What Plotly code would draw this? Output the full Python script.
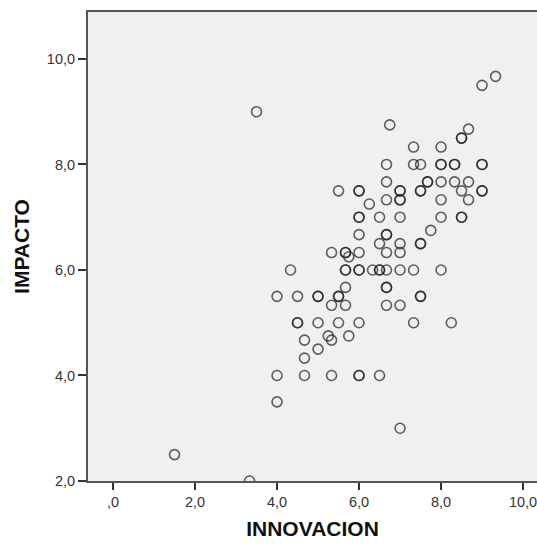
import plotly.graph_objects as go

innovacion = [9.33, 9.0, 3.5, 6.75, 8.67, 8.5, 8.5, 7.33, 8.0, 6.67, 7.33, 7.5, 8.0, 8.0,
              8.33, 8.33, 9.0, 9.0, 6.67, 7.67, 7.67, 8.0, 8.33, 8.67, 5.5, 6.0, 6.0,
              7.0, 7.0, 7.5, 7.5, 8.5, 9.0, 9.0, 6.25, 6.67, 7.0, 7.0, 8.0, 8.67,
              6.0, 6.0, 6.5, 7.0, 8.0, 8.5, 8.5, 6.0, 6.67, 6.67, 7.75, 6.5, 7.0,
              7.5, 7.5, 5.33, 5.67, 5.67, 5.75, 6.0, 6.67, 7.0, 4.33, 5.67, 5.67,
              6.0, 6.0, 6.33, 6.5, 6.5, 6.67, 7.0, 7.33, 8.0, 5.67, 6.67, 6.67,
              4.0, 4.5, 5.0, 5.0, 5.5, 5.5, 7.5, 7.5, 5.33, 5.67, 6.67, 7.0,
              4.5, 4.5, 5.0, 5.5, 6.0, 7.33, 8.25, 5.25, 5.33, 5.75, 4.67, 5.0,
              4.67, 4.0, 4.67, 5.33, 6.0, 6.0, 6.5, 4.0, 7.0, 1.5, 3.33]
impacto = [9.67, 9.5, 9.0, 8.75, 8.67, 8.5, 8.5, 8.33, 8.33, 8.0, 8.0, 8.0, 8.0, 8.0,
           8.0, 8.0, 8.0, 8.0, 7.67, 7.67, 7.67, 7.67, 7.67, 7.67, 7.5, 7.5, 7.5,
           7.5, 7.5, 7.5, 7.5, 7.5, 7.5, 7.5, 7.25, 7.33, 7.33, 7.33, 7.33, 7.33,
           7.0, 7.0, 7.0, 7.0, 7.0, 7.0, 7.0, 6.67, 6.67, 6.67, 6.75, 6.5, 6.5,
           6.5, 6.5, 6.33, 6.33, 6.33, 6.25, 6.33, 6.33, 6.33, 6.0, 6.0, 6.0,
           6.0, 6.0, 6.0, 6.0, 6.0, 6.0, 6.0, 6.0, 6.0, 5.67, 5.67, 5.67,
           5.5, 5.5, 5.5, 5.5, 5.5, 5.5, 5.5, 5.5, 5.33, 5.33, 5.33, 5.33,
           5.0, 5.0, 5.0, 5.0, 5.0, 5.0, 5.0, 4.75, 4.67, 4.75, 4.67, 4.5,
           4.33, 4.0, 4.0, 4.0, 4.0, 4.0, 4.0, 3.5, 3.0, 2.5, 2.0]

x_tickvals = [0, 2, 4, 6, 8, 10]
x_ticktext = [",0", "2,0", "4,0", "6,0", "8,0", "10,0"]
y_tickvals = [2, 4, 6, 8, 10]
y_ticktext = ["2,0", "4,0", "6,0", "8,0", "10,0"]

fig = go.Figure(go.Scatter(
    x=innovacion, y=impacto, mode="markers",
    marker=dict(symbol="circle-open", size=10, color="rgba(30,30,30,0.7)",
                line=dict(width=1.6)),
    hoverinfo="skip", showlegend=False))

axis_font = dict(family="Liberation Sans, Arial, sans-serif", size=14.5, color="#333333")
title_font = dict(family="Liberation Sans, Arial, sans-serif", size=21, color="#111111")

fig.update_layout(
    width=537, height=546,
    margin=dict(l=88, r=0, t=12, b=65, autoexpand=False),
    paper_bgcolor="white", plot_bgcolor="#F0F0F0",
    xaxis=dict(range=[-0.61, 10.34], tickvals=x_tickvals, ticktext=x_ticktext,
               showgrid=False, zeroline=False, showline=True, linecolor="#555555",
               linewidth=2, mirror=True, ticks="outside", ticklen=7, tickwidth=2,
               tickcolor="#333333", tickfont=axis_font, automargin=False,
               ticklabeloverflow="allow",
               title=dict(text="<b>INNOVACION</b>", font=title_font, standoff=12)),
    yaxis=dict(range=[2, 10.89], tickvals=y_tickvals, ticktext=y_ticktext,
               showgrid=False, zeroline=False, showline=True, linecolor="#555555",
               linewidth=2, ticks="outside", ticklen=8, tickwidth=2,
               tickcolor="#333333", tickfont=axis_font, automargin=False,
               ticklabeloverflow="allow",
               title=dict(text="<b>IMPACTO</b>", font=title_font, standoff=12)),
)

fig.write_html("out.html", config={"displayModeBar": False},
               post_script="document.body.style.margin='0';")
